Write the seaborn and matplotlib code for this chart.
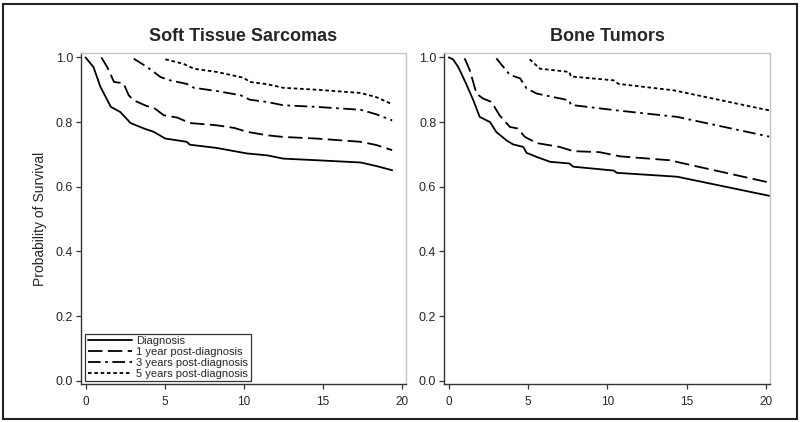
# Curvas de supervivencia condicional: sarcomas de tejidos blandos y tumores óseos
import pandas as pd
import seaborn as sns
import matplotlib.pyplot as plt
from matplotlib.patches import Rectangle

# ========================
# 1. Datos
# ========================
grupos = ["Diagnosis", "1 year post-diagnosis", "3 years post-diagnosis", "5 years post-diagnosis"]

# --- Soft Tissue Sarcomas ---
sts_diag_t = [0, 0.5, 0.95, 1.6, 2.2, 2.85, 3.7, 4.3, 5.05, 6.4, 6.6, 8.3, 10.2, 11.5, 12.5, 14.6, 17.4, 18.4, 19.4]
sts_diag_s = [1.0, 0.97, 0.908, 0.847, 0.831, 0.797, 0.78, 0.77, 0.749, 0.739, 0.73, 0.72, 0.703, 0.697, 0.687, 0.682, 0.675, 0.664, 0.651]
sts_1y_t = [1.0, 1.37, 1.8, 2.4, 2.73, 3.05, 3.9, 4.3, 4.95, 5.8, 6.6, 8.3, 9.4, 10.2, 11.5, 12.5, 14.6, 17.4, 18.4, 19.4]
sts_1y_s = [1.0, 0.97, 0.924, 0.92, 0.883, 0.867, 0.849, 0.845, 0.821, 0.814, 0.797, 0.79, 0.782, 0.77, 0.759, 0.754, 0.749, 0.739, 0.729, 0.713]
sts_3y_t = [3.05, 3.9, 4.75, 5.35, 6.4, 6.85, 8.3, 9.8, 10.4, 11.5, 12.5, 14.6, 17.4, 18.4, 19.4]
sts_3y_s = [0.996, 0.97, 0.939, 0.929, 0.918, 0.906, 0.896, 0.883, 0.869, 0.862, 0.852, 0.847, 0.838, 0.824, 0.805]
sts_5y_t = [5.05, 6.2, 6.85, 8.3, 10.0, 10.4, 11.5, 12.5, 14.6, 17.4, 18.4, 19.4]
sts_5y_s = [0.994, 0.98, 0.965, 0.955, 0.937, 0.924, 0.917, 0.906, 0.9, 0.89, 0.877, 0.855]

# --- Bone Tumors ---
bt_diag_t = [0, 0.27, 0.6, 1.1, 1.55, 1.95, 2.6, 3.0, 3.65, 4.05, 4.7, 4.9, 5.55, 6.4, 7.6, 7.85, 10.4, 10.6, 14.4, 20.2]
bt_diag_s = [1.0, 0.994, 0.97, 0.918, 0.867, 0.816, 0.8, 0.769, 0.743, 0.731, 0.723, 0.705, 0.692, 0.677, 0.672, 0.662, 0.65, 0.643, 0.631, 0.572]
bt_1y_t = [1.0, 1.32, 1.75, 2.15, 2.7, 3.2, 3.85, 4.35, 4.8, 5.55, 7.0, 7.85, 9.5, 10.8, 13.9, 20.2]
bt_1y_s = [0.997, 0.961, 0.888, 0.873, 0.862, 0.821, 0.785, 0.78, 0.754, 0.735, 0.723, 0.71, 0.707, 0.694, 0.682, 0.613]
bt_3y_t = [3.0, 3.85, 4.5, 4.9, 5.55, 7.6, 7.7, 10.6, 14.4, 20.2]
bt_3y_s = [0.997, 0.946, 0.935, 0.904, 0.888, 0.867, 0.853, 0.836, 0.816, 0.755]
bt_5y_t = [5.1, 5.75, 7.6, 7.7, 10.4, 10.7, 14.2, 20.2]
bt_5y_s = [0.994, 0.965, 0.955, 0.941, 0.929, 0.918, 0.898, 0.836]

paneles = {
    "Soft Tissue Sarcomas": [(sts_diag_t, sts_diag_s), (sts_1y_t, sts_1y_s), (sts_3y_t, sts_3y_s), (sts_5y_t, sts_5y_s)],
    "Bone Tumors": [(bt_diag_t, bt_diag_s), (bt_1y_t, bt_1y_s), (bt_3y_t, bt_3y_s), (bt_5y_t, bt_5y_s)],
}

# Tabla larga para seaborn
filas = []
for panel, series in paneles.items():
    for grupo, (t, s) in zip(grupos, series):
        for ti, si in zip(t, s):
            filas.append({"panel": panel, "grupo": grupo, "t": ti, "s": si})
df = pd.DataFrame(filas)

# ========================
# 2. Estilo
# ========================
sns.set_style("white")
plt.rcParams["font.family"] = ["Liberation Sans", "DejaVu Sans"]

trazos = {
    "Diagnosis": "",
    "1 year post-diagnosis": (8, 3),
    "3 years post-diagnosis": (7, 2.5, 1.5, 2.5),
    "5 years post-diagnosis": (2, 1.5),
}

fig = plt.figure(figsize=(8, 4.22), dpi=100)
posiciones = [[0.101, 0.090, 0.406, 0.784], [0.555, 0.090, 0.4075, 0.784]]

for i, (panel, pos) in enumerate(zip(paneles.keys(), posiciones)):
    ax = fig.add_axes(pos)
    datos = df[df["panel"] == panel]
    sns.lineplot(data=datos, x="t", y="s", style="grupo", style_order=grupos,
                 dashes=trazos, color="black", linewidth=1.3, estimator=None,
                 sort=False, legend=(i == 0), ax=ax)

    ax.set_xlim(-0.3, 20.25)
    ax.set_ylim(-0.01, 1.013)
    ax.set_xticks([0, 5, 10, 15, 20])
    ax.set_yticks([0, 0.2, 0.4, 0.6, 0.8, 1.0])
    ax.set_yticklabels([f"{v:.1f}" for v in [0, 0.2, 0.4, 0.6, 0.8, 1.0]])
    ax.tick_params(axis="both", direction="out", length=3.5, width=0.9,
                   color="#333333", left=True, bottom=True)
    ax.tick_params(axis="y", labelsize=9, pad=2)
    ax.tick_params(axis="x", labelsize=8.5, pad=5)
    ax.set_xlabel("")
    ax.set_ylabel("")
    ax.set_title(panel, fontsize=13, fontweight="bold", pad=9)

    for lado in ["left", "bottom"]:
        ax.spines[lado].set_color("#333333")
        ax.spines[lado].set_linewidth(1.0)
    for lado in ["top", "right"]:
        ax.spines[lado].set_color("#c4c4c4")
        ax.spines[lado].set_linewidth(1.0)

    if i == 0:
        sns.move_legend(ax, "lower left", bbox_to_anchor=(0.014, 0.008), title=None,
                        fontsize=8, frameon=True, fancybox=False, framealpha=1,
                        edgecolor="#333333", handlelength=4.0, handletextpad=0.4,
                        borderpad=0.2, labelspacing=0.1, borderaxespad=0)
        ax.get_legend().get_frame().set_linewidth(0.9)

fig.text(0.05, 0.482, "Probability of Survival", rotation=90, ha="center", va="center", fontsize=10)

# Marco exterior
fig.add_artist(Rectangle((3 / 800, 3 / 422), 794 / 800, 415 / 422, transform=fig.transFigure,
                         fill=False, edgecolor="#222222", linewidth=1.5))

plt.savefig("out.png", dpi=100)
